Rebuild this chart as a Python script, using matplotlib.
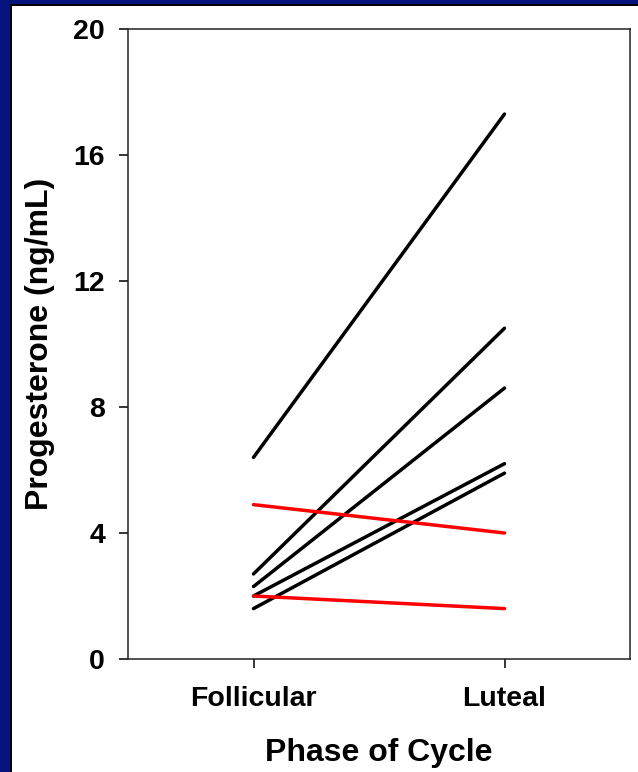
import matplotlib.pyplot as plt
from matplotlib.patches import Rectangle
import numpy as np

######
phases = ['Follicular', 'Luteal']
follicular = [6.4, 2.7, 2.3, 2.0, 1.6, 4.9, 2.0]
luteal = [17.3, 10.5, 8.6, 6.2, 5.9, 4.0, 1.6]
colours = ['black', 'black', 'black', 'black', 'black', 'red', 'red']
yticks = [0, 4, 8, 12, 16, 20]
######
plt.rcParams['font.family'] = ['Liberation Sans', 'DejaVu Sans']
plt.rcParams['font.weight'] = 'bold'

W, H = 638, 772
fig = plt.figure(figsize=(W / 100, H / 100), dpi=100, facecolor='#07137c')

# slide frame: thin black line then white panel
fig.add_artist(Rectangle((10 / W, 0), 1, 1 - 4 / H, transform=fig.transFigure,
                         facecolor='black', edgecolor='none', zorder=0))
fig.add_artist(Rectangle((12 / W, 0), 1, 1 - 6 / H, transform=fig.transFigure,
                         facecolor='white', edgecolor='none', zorder=0))

ax = fig.add_axes([128 / W, 1 - 659 / H, (630 - 128) / W, (659 - 29) / H])
ax.set_facecolor('white')

x = np.arange(1, len(phases) + 1)
for f, l, c in zip(follicular, luteal, colours):
    ax.plot(x, [f, l], color=c, lw=2.5, solid_capstyle='round')

ax.set_xlim(0.5, 2.5)
ax.set_ylim(0, 20)
ax.set_xticks(x)
ax.set_xticklabels(phases)
ax.set_yticks(yticks)
ax.tick_params(direction='out', length=6.5, width=1.1, labelsize=20.5, colors='black')
ax.tick_params(axis='x', pad=13)
ax.tick_params(axis='y', pad=10)
for lab in ax.get_xticklabels() + ax.get_yticklabels():
    lab.set_fontweight('bold')
for s in ax.spines.values():
    s.set_linewidth(1.1)
    s.set_color('#222222')

ax.set_xlabel('Phase of Cycle', fontsize=23, fontweight='bold', labelpad=19)
ax.set_ylabel('Progesterone (ng/mL)', fontsize=23, fontweight='bold', labelpad=13)

plt.savefig('out.png', dpi=100, facecolor=fig.get_facecolor())
